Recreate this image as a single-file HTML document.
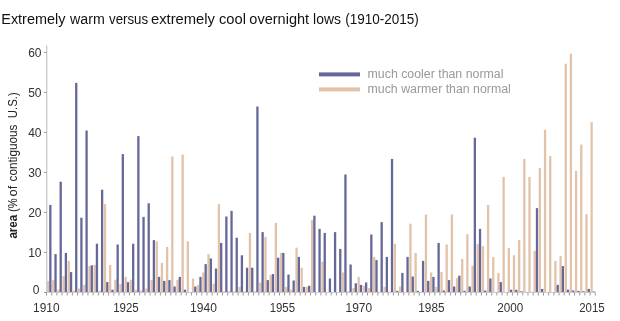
<!DOCTYPE html>
<html><head><meta charset="utf-8"><style>
html,body{margin:0;padding:0;background:#fff;width:620px;height:321px;overflow:hidden}
svg{display:block;will-change:transform}
text{font-family:"Liberation Sans",sans-serif}
</style></head><body>
<svg width="620" height="321" viewBox="0 0 620 321">
<rect width="620" height="321" fill="#fff"/>
<g fill="#111111"><text x="1.27" y="23.8" font-size="14" textLength="64.17" lengthAdjust="spacingAndGlyphs">Extremely</text><text x="70.00" y="23.8" font-size="14" textLength="34.84" lengthAdjust="spacingAndGlyphs">warm</text><text x="109.00" y="23.8" font-size="14" textLength="39.11" lengthAdjust="spacingAndGlyphs">versus</text><text x="150.97" y="23.8" font-size="14" textLength="64.01" lengthAdjust="spacingAndGlyphs">extremely</text><text x="218.97" y="23.8" font-size="14" textLength="26.96" lengthAdjust="spacingAndGlyphs">cool</text><text x="249.38" y="23.8" font-size="14" textLength="59.72" lengthAdjust="spacingAndGlyphs">overnight</text><text x="313.11" y="23.8" font-size="14" textLength="27.80" lengthAdjust="spacingAndGlyphs">lows</text><text x="345.23" y="23.8" font-size="14" textLength="73.62" lengthAdjust="spacingAndGlyphs">(1910-2015)</text></g>
<g shape-rendering="auto">
<rect x="46.90" y="280.90" width="2.3" height="11.60" fill="#e2c3aa"/>
<rect x="49.20" y="204.90" width="2.3" height="87.60" fill="#666899"/>
<rect x="52.08" y="280.10" width="2.3" height="12.40" fill="#e2c3aa"/>
<rect x="54.38" y="254.10" width="2.3" height="38.40" fill="#666899"/>
<rect x="57.25" y="289.70" width="2.3" height="2.80" fill="#e2c3aa"/>
<rect x="59.55" y="181.70" width="2.3" height="110.80" fill="#666899"/>
<rect x="62.43" y="276.10" width="2.3" height="16.40" fill="#e2c3aa"/>
<rect x="64.73" y="252.90" width="2.3" height="39.60" fill="#666899"/>
<rect x="67.61" y="260.90" width="2.3" height="31.60" fill="#e2c3aa"/>
<rect x="69.91" y="272.10" width="2.3" height="20.40" fill="#666899"/>
<rect x="72.78" y="290.50" width="2.3" height="2.00" fill="#e2c3aa"/>
<rect x="75.08" y="82.90" width="2.3" height="209.60" fill="#666899"/>
<rect x="77.96" y="288.50" width="2.3" height="4.00" fill="#e2c3aa"/>
<rect x="80.26" y="217.70" width="2.3" height="74.80" fill="#666899"/>
<rect x="83.14" y="284.90" width="2.3" height="7.60" fill="#e2c3aa"/>
<rect x="85.44" y="130.50" width="2.3" height="162.00" fill="#666899"/>
<rect x="88.32" y="266.10" width="2.3" height="26.40" fill="#e2c3aa"/>
<rect x="90.62" y="265.30" width="2.3" height="27.20" fill="#666899"/>
<rect x="93.49" y="264.90" width="2.3" height="27.60" fill="#e2c3aa"/>
<rect x="95.79" y="243.70" width="2.3" height="48.80" fill="#666899"/>
<rect x="98.67" y="290.50" width="2.3" height="2.00" fill="#e2c3aa"/>
<rect x="100.97" y="189.70" width="2.3" height="102.80" fill="#666899"/>
<rect x="103.85" y="204.10" width="2.3" height="88.40" fill="#e2c3aa"/>
<rect x="106.15" y="282.10" width="2.3" height="10.40" fill="#666899"/>
<rect x="109.02" y="264.90" width="2.3" height="27.60" fill="#e2c3aa"/>
<rect x="111.32" y="289.70" width="2.3" height="2.80" fill="#666899"/>
<rect x="114.20" y="279.70" width="2.3" height="12.80" fill="#e2c3aa"/>
<rect x="116.50" y="244.50" width="2.3" height="48.00" fill="#666899"/>
<rect x="119.38" y="284.10" width="2.3" height="8.40" fill="#e2c3aa"/>
<rect x="121.68" y="154.10" width="2.3" height="138.40" fill="#666899"/>
<rect x="124.56" y="276.90" width="2.3" height="15.60" fill="#e2c3aa"/>
<rect x="126.86" y="282.10" width="2.3" height="10.40" fill="#666899"/>
<rect x="129.73" y="279.70" width="2.3" height="12.80" fill="#e2c3aa"/>
<rect x="132.03" y="243.70" width="2.3" height="48.80" fill="#666899"/>
<rect x="134.91" y="289.70" width="2.3" height="2.80" fill="#e2c3aa"/>
<rect x="137.21" y="136.10" width="2.3" height="156.40" fill="#666899"/>
<rect x="140.09" y="290.50" width="2.3" height="2.00" fill="#e2c3aa"/>
<rect x="142.39" y="216.90" width="2.3" height="75.60" fill="#666899"/>
<rect x="145.26" y="288.50" width="2.3" height="4.00" fill="#e2c3aa"/>
<rect x="147.56" y="203.30" width="2.3" height="89.20" fill="#666899"/>
<rect x="150.44" y="280.10" width="2.3" height="12.40" fill="#e2c3aa"/>
<rect x="152.74" y="240.10" width="2.3" height="52.40" fill="#666899"/>
<rect x="155.62" y="241.30" width="2.3" height="51.20" fill="#e2c3aa"/>
<rect x="157.92" y="276.90" width="2.3" height="15.60" fill="#666899"/>
<rect x="160.79" y="262.90" width="2.3" height="29.60" fill="#e2c3aa"/>
<rect x="163.09" y="280.90" width="2.3" height="11.60" fill="#666899"/>
<rect x="165.97" y="246.90" width="2.3" height="45.60" fill="#e2c3aa"/>
<rect x="168.27" y="280.10" width="2.3" height="12.40" fill="#666899"/>
<rect x="171.15" y="156.50" width="2.3" height="136.00" fill="#e2c3aa"/>
<rect x="173.45" y="286.50" width="2.3" height="6.00" fill="#666899"/>
<rect x="176.32" y="280.10" width="2.3" height="12.40" fill="#e2c3aa"/>
<rect x="178.62" y="276.90" width="2.3" height="15.60" fill="#666899"/>
<rect x="181.50" y="154.50" width="2.3" height="138.00" fill="#e2c3aa"/>
<rect x="183.80" y="289.70" width="2.3" height="2.80" fill="#666899"/>
<rect x="186.68" y="241.30" width="2.3" height="51.20" fill="#e2c3aa"/>
<rect x="188.98" y="292.10" width="2.3" height="0.40" fill="#666899"/>
<rect x="191.86" y="278.50" width="2.3" height="14.00" fill="#e2c3aa"/>
<rect x="194.16" y="286.50" width="2.3" height="6.00" fill="#666899"/>
<rect x="197.03" y="284.90" width="2.3" height="7.60" fill="#e2c3aa"/>
<rect x="199.33" y="276.90" width="2.3" height="15.60" fill="#666899"/>
<rect x="202.21" y="272.50" width="2.3" height="20.00" fill="#e2c3aa"/>
<rect x="204.51" y="264.10" width="2.3" height="28.40" fill="#666899"/>
<rect x="207.39" y="254.10" width="2.3" height="38.40" fill="#e2c3aa"/>
<rect x="209.69" y="258.50" width="2.3" height="34.00" fill="#666899"/>
<rect x="212.56" y="283.70" width="2.3" height="8.80" fill="#e2c3aa"/>
<rect x="214.86" y="268.50" width="2.3" height="24.00" fill="#666899"/>
<rect x="217.74" y="204.10" width="2.3" height="88.40" fill="#e2c3aa"/>
<rect x="220.04" y="242.90" width="2.3" height="49.60" fill="#666899"/>
<rect x="222.92" y="291.30" width="2.3" height="1.20" fill="#e2c3aa"/>
<rect x="225.22" y="216.50" width="2.3" height="76.00" fill="#666899"/>
<rect x="228.09" y="291.30" width="2.3" height="1.20" fill="#e2c3aa"/>
<rect x="230.39" y="210.90" width="2.3" height="81.60" fill="#666899"/>
<rect x="233.27" y="291.30" width="2.3" height="1.20" fill="#e2c3aa"/>
<rect x="235.57" y="237.70" width="2.3" height="54.80" fill="#666899"/>
<rect x="238.45" y="286.90" width="2.3" height="5.60" fill="#e2c3aa"/>
<rect x="240.75" y="255.30" width="2.3" height="37.20" fill="#666899"/>
<rect x="243.63" y="291.30" width="2.3" height="1.20" fill="#e2c3aa"/>
<rect x="245.93" y="267.70" width="2.3" height="24.80" fill="#666899"/>
<rect x="248.80" y="232.90" width="2.3" height="59.60" fill="#e2c3aa"/>
<rect x="251.10" y="267.70" width="2.3" height="24.80" fill="#666899"/>
<rect x="253.98" y="291.30" width="2.3" height="1.20" fill="#e2c3aa"/>
<rect x="256.28" y="106.50" width="2.3" height="186.00" fill="#666899"/>
<rect x="259.16" y="282.50" width="2.3" height="10.00" fill="#e2c3aa"/>
<rect x="261.46" y="232.10" width="2.3" height="60.40" fill="#666899"/>
<rect x="264.33" y="236.90" width="2.3" height="55.60" fill="#e2c3aa"/>
<rect x="266.63" y="280.10" width="2.3" height="12.40" fill="#666899"/>
<rect x="269.51" y="274.90" width="2.3" height="17.60" fill="#e2c3aa"/>
<rect x="271.81" y="274.10" width="2.3" height="18.40" fill="#666899"/>
<rect x="274.69" y="222.90" width="2.3" height="69.60" fill="#e2c3aa"/>
<rect x="276.99" y="257.70" width="2.3" height="34.80" fill="#666899"/>
<rect x="279.86" y="252.90" width="2.3" height="39.60" fill="#e2c3aa"/>
<rect x="282.16" y="252.90" width="2.3" height="39.60" fill="#666899"/>
<rect x="285.04" y="286.90" width="2.3" height="5.60" fill="#e2c3aa"/>
<rect x="287.34" y="274.50" width="2.3" height="18.00" fill="#666899"/>
<rect x="290.22" y="289.70" width="2.3" height="2.80" fill="#e2c3aa"/>
<rect x="292.52" y="280.50" width="2.3" height="12.00" fill="#666899"/>
<rect x="295.40" y="247.70" width="2.3" height="44.80" fill="#e2c3aa"/>
<rect x="297.70" y="256.90" width="2.3" height="35.60" fill="#666899"/>
<rect x="300.57" y="267.70" width="2.3" height="24.80" fill="#e2c3aa"/>
<rect x="302.87" y="286.90" width="2.3" height="5.60" fill="#666899"/>
<rect x="305.75" y="286.90" width="2.3" height="5.60" fill="#e2c3aa"/>
<rect x="308.05" y="285.70" width="2.3" height="6.80" fill="#666899"/>
<rect x="310.93" y="220.10" width="2.3" height="72.40" fill="#e2c3aa"/>
<rect x="313.23" y="215.70" width="2.3" height="76.80" fill="#666899"/>
<rect x="316.10" y="292.10" width="2.3" height="0.40" fill="#e2c3aa"/>
<rect x="318.40" y="228.90" width="2.3" height="63.60" fill="#666899"/>
<rect x="321.28" y="261.70" width="2.3" height="30.80" fill="#e2c3aa"/>
<rect x="323.58" y="232.90" width="2.3" height="59.60" fill="#666899"/>
<rect x="326.46" y="292.10" width="2.3" height="0.40" fill="#e2c3aa"/>
<rect x="328.76" y="278.50" width="2.3" height="14.00" fill="#666899"/>
<rect x="331.63" y="292.10" width="2.3" height="0.40" fill="#e2c3aa"/>
<rect x="333.93" y="232.10" width="2.3" height="60.40" fill="#666899"/>
<rect x="336.81" y="292.10" width="2.3" height="0.40" fill="#e2c3aa"/>
<rect x="339.11" y="248.90" width="2.3" height="43.60" fill="#666899"/>
<rect x="341.99" y="272.50" width="2.3" height="20.00" fill="#e2c3aa"/>
<rect x="344.29" y="174.50" width="2.3" height="118.00" fill="#666899"/>
<rect x="347.17" y="291.30" width="2.3" height="1.20" fill="#e2c3aa"/>
<rect x="349.47" y="264.50" width="2.3" height="28.00" fill="#666899"/>
<rect x="352.34" y="288.10" width="2.3" height="4.40" fill="#e2c3aa"/>
<rect x="354.64" y="283.30" width="2.3" height="9.20" fill="#666899"/>
<rect x="357.52" y="276.90" width="2.3" height="15.60" fill="#e2c3aa"/>
<rect x="359.82" y="284.90" width="2.3" height="7.60" fill="#666899"/>
<rect x="362.70" y="285.70" width="2.3" height="6.80" fill="#e2c3aa"/>
<rect x="365.00" y="282.50" width="2.3" height="10.00" fill="#666899"/>
<rect x="367.87" y="288.10" width="2.3" height="4.40" fill="#e2c3aa"/>
<rect x="370.17" y="234.50" width="2.3" height="58.00" fill="#666899"/>
<rect x="373.05" y="256.90" width="2.3" height="35.60" fill="#e2c3aa"/>
<rect x="375.35" y="260.10" width="2.3" height="32.40" fill="#666899"/>
<rect x="378.23" y="291.70" width="2.3" height="0.80" fill="#e2c3aa"/>
<rect x="380.53" y="222.10" width="2.3" height="70.40" fill="#666899"/>
<rect x="383.40" y="286.90" width="2.3" height="5.60" fill="#e2c3aa"/>
<rect x="385.70" y="256.90" width="2.3" height="35.60" fill="#666899"/>
<rect x="388.58" y="291.70" width="2.3" height="0.80" fill="#e2c3aa"/>
<rect x="390.88" y="158.90" width="2.3" height="133.60" fill="#666899"/>
<rect x="393.76" y="243.70" width="2.3" height="48.80" fill="#e2c3aa"/>
<rect x="396.06" y="290.90" width="2.3" height="1.60" fill="#666899"/>
<rect x="398.94" y="286.50" width="2.3" height="6.00" fill="#e2c3aa"/>
<rect x="401.24" y="272.90" width="2.3" height="19.60" fill="#666899"/>
<rect x="404.11" y="292.10" width="2.3" height="0.40" fill="#e2c3aa"/>
<rect x="406.41" y="256.90" width="2.3" height="35.60" fill="#666899"/>
<rect x="409.29" y="223.70" width="2.3" height="68.80" fill="#e2c3aa"/>
<rect x="411.59" y="276.50" width="2.3" height="16.00" fill="#666899"/>
<rect x="414.47" y="252.90" width="2.3" height="39.60" fill="#e2c3aa"/>
<rect x="416.77" y="290.90" width="2.3" height="1.60" fill="#666899"/>
<rect x="419.64" y="292.10" width="2.3" height="0.40" fill="#e2c3aa"/>
<rect x="421.94" y="260.90" width="2.3" height="31.60" fill="#666899"/>
<rect x="424.82" y="214.50" width="2.3" height="78.00" fill="#e2c3aa"/>
<rect x="427.12" y="280.90" width="2.3" height="11.60" fill="#666899"/>
<rect x="430.00" y="272.50" width="2.3" height="20.00" fill="#e2c3aa"/>
<rect x="432.30" y="276.90" width="2.3" height="15.60" fill="#666899"/>
<rect x="435.17" y="286.90" width="2.3" height="5.60" fill="#e2c3aa"/>
<rect x="437.47" y="242.90" width="2.3" height="49.60" fill="#666899"/>
<rect x="440.35" y="272.10" width="2.3" height="20.40" fill="#e2c3aa"/>
<rect x="442.65" y="290.50" width="2.3" height="2.00" fill="#666899"/>
<rect x="445.53" y="244.50" width="2.3" height="48.00" fill="#e2c3aa"/>
<rect x="447.83" y="280.10" width="2.3" height="12.40" fill="#666899"/>
<rect x="450.71" y="214.50" width="2.3" height="78.00" fill="#e2c3aa"/>
<rect x="453.01" y="286.50" width="2.3" height="6.00" fill="#666899"/>
<rect x="455.88" y="278.10" width="2.3" height="14.40" fill="#e2c3aa"/>
<rect x="458.18" y="275.70" width="2.3" height="16.80" fill="#666899"/>
<rect x="461.06" y="258.90" width="2.3" height="33.60" fill="#e2c3aa"/>
<rect x="463.36" y="290.90" width="2.3" height="1.60" fill="#666899"/>
<rect x="466.24" y="234.10" width="2.3" height="58.40" fill="#e2c3aa"/>
<rect x="468.54" y="286.50" width="2.3" height="6.00" fill="#666899"/>
<rect x="471.41" y="265.70" width="2.3" height="26.80" fill="#e2c3aa"/>
<rect x="473.71" y="137.70" width="2.3" height="154.80" fill="#666899"/>
<rect x="476.59" y="244.10" width="2.3" height="48.40" fill="#e2c3aa"/>
<rect x="478.89" y="228.90" width="2.3" height="63.60" fill="#666899"/>
<rect x="481.77" y="246.10" width="2.3" height="46.40" fill="#e2c3aa"/>
<rect x="484.07" y="290.50" width="2.3" height="2.00" fill="#666899"/>
<rect x="486.94" y="204.90" width="2.3" height="87.60" fill="#e2c3aa"/>
<rect x="489.24" y="278.50" width="2.3" height="14.00" fill="#666899"/>
<rect x="492.12" y="256.90" width="2.3" height="35.60" fill="#e2c3aa"/>
<rect x="494.42" y="292.10" width="2.3" height="0.40" fill="#666899"/>
<rect x="497.30" y="272.90" width="2.3" height="19.60" fill="#e2c3aa"/>
<rect x="499.60" y="282.10" width="2.3" height="10.40" fill="#666899"/>
<rect x="502.48" y="176.90" width="2.3" height="115.60" fill="#e2c3aa"/>
<rect x="504.78" y="292.10" width="2.3" height="0.40" fill="#666899"/>
<rect x="507.65" y="248.10" width="2.3" height="44.40" fill="#e2c3aa"/>
<rect x="509.95" y="289.70" width="2.3" height="2.80" fill="#666899"/>
<rect x="512.83" y="255.30" width="2.3" height="37.20" fill="#e2c3aa"/>
<rect x="515.13" y="289.70" width="2.3" height="2.80" fill="#666899"/>
<rect x="518.01" y="240.10" width="2.3" height="52.40" fill="#e2c3aa"/>
<rect x="520.31" y="291.30" width="2.3" height="1.20" fill="#666899"/>
<rect x="523.18" y="158.90" width="2.3" height="133.60" fill="#e2c3aa"/>
<rect x="525.48" y="291.90" width="2.3" height="0.60" fill="#666899"/>
<rect x="528.36" y="176.90" width="2.3" height="115.60" fill="#e2c3aa"/>
<rect x="530.66" y="291.90" width="2.3" height="0.60" fill="#666899"/>
<rect x="533.54" y="250.90" width="2.3" height="41.60" fill="#e2c3aa"/>
<rect x="535.84" y="208.10" width="2.3" height="84.40" fill="#666899"/>
<rect x="538.71" y="168.10" width="2.3" height="124.40" fill="#e2c3aa"/>
<rect x="541.01" y="288.90" width="2.3" height="3.60" fill="#666899"/>
<rect x="543.89" y="129.70" width="2.3" height="162.80" fill="#e2c3aa"/>
<rect x="546.19" y="292.10" width="2.3" height="0.40" fill="#666899"/>
<rect x="549.07" y="156.10" width="2.3" height="136.40" fill="#e2c3aa"/>
<rect x="551.37" y="292.10" width="2.3" height="0.40" fill="#666899"/>
<rect x="554.25" y="260.90" width="2.3" height="31.60" fill="#e2c3aa"/>
<rect x="556.55" y="284.90" width="2.3" height="7.60" fill="#666899"/>
<rect x="559.42" y="256.10" width="2.3" height="36.40" fill="#e2c3aa"/>
<rect x="561.72" y="266.10" width="2.3" height="26.40" fill="#666899"/>
<rect x="564.60" y="63.70" width="2.3" height="228.80" fill="#e2c3aa"/>
<rect x="566.90" y="289.70" width="2.3" height="2.80" fill="#666899"/>
<rect x="569.78" y="53.70" width="2.3" height="238.80" fill="#e2c3aa"/>
<rect x="572.08" y="290.50" width="2.3" height="2.00" fill="#666899"/>
<rect x="574.95" y="170.90" width="2.3" height="121.60" fill="#e2c3aa"/>
<rect x="577.25" y="290.90" width="2.3" height="1.60" fill="#666899"/>
<rect x="580.13" y="144.50" width="2.3" height="148.00" fill="#e2c3aa"/>
<rect x="582.43" y="291.30" width="2.3" height="1.20" fill="#666899"/>
<rect x="585.31" y="214.10" width="2.3" height="78.40" fill="#e2c3aa"/>
<rect x="587.61" y="288.90" width="2.3" height="3.60" fill="#666899"/>
<rect x="590.48" y="122.10" width="2.3" height="170.40" fill="#e2c3aa"/>
<rect x="592.78" y="291.50" width="2.3" height="1.00" fill="#666899"/>
</g>
<line x1="46.7" y1="45.5" x2="46.7" y2="292.5" stroke="#cccccc" stroke-width="1.4"/>
<line x1="44" y1="292.5" x2="595.262" y2="292.5" stroke="#cccccc" stroke-width="1"/>
<g stroke="#999999" stroke-width="1">
<line x1="46.50" y1="292.5" x2="46.50" y2="295.5"/>
<line x1="51.68" y1="292.5" x2="51.68" y2="295.5"/>
<line x1="56.85" y1="292.5" x2="56.85" y2="295.5"/>
<line x1="62.03" y1="292.5" x2="62.03" y2="295.5"/>
<line x1="67.21" y1="292.5" x2="67.21" y2="295.5"/>
<line x1="72.38" y1="292.5" x2="72.38" y2="295.5"/>
<line x1="77.56" y1="292.5" x2="77.56" y2="295.5"/>
<line x1="82.74" y1="292.5" x2="82.74" y2="295.5"/>
<line x1="87.92" y1="292.5" x2="87.92" y2="295.5"/>
<line x1="93.09" y1="292.5" x2="93.09" y2="295.5"/>
<line x1="98.27" y1="292.5" x2="98.27" y2="295.5"/>
<line x1="103.45" y1="292.5" x2="103.45" y2="295.5"/>
<line x1="108.62" y1="292.5" x2="108.62" y2="295.5"/>
<line x1="113.80" y1="292.5" x2="113.80" y2="295.5"/>
<line x1="118.98" y1="292.5" x2="118.98" y2="295.5"/>
<line x1="124.16" y1="292.5" x2="124.16" y2="295.5"/>
<line x1="129.33" y1="292.5" x2="129.33" y2="295.5"/>
<line x1="134.51" y1="292.5" x2="134.51" y2="295.5"/>
<line x1="139.69" y1="292.5" x2="139.69" y2="295.5"/>
<line x1="144.86" y1="292.5" x2="144.86" y2="295.5"/>
<line x1="150.04" y1="292.5" x2="150.04" y2="295.5"/>
<line x1="155.22" y1="292.5" x2="155.22" y2="295.5"/>
<line x1="160.39" y1="292.5" x2="160.39" y2="295.5"/>
<line x1="165.57" y1="292.5" x2="165.57" y2="295.5"/>
<line x1="170.75" y1="292.5" x2="170.75" y2="295.5"/>
<line x1="175.92" y1="292.5" x2="175.92" y2="295.5"/>
<line x1="181.10" y1="292.5" x2="181.10" y2="295.5"/>
<line x1="186.28" y1="292.5" x2="186.28" y2="295.5"/>
<line x1="191.46" y1="292.5" x2="191.46" y2="295.5"/>
<line x1="196.63" y1="292.5" x2="196.63" y2="295.5"/>
<line x1="201.81" y1="292.5" x2="201.81" y2="295.5"/>
<line x1="206.99" y1="292.5" x2="206.99" y2="295.5"/>
<line x1="212.16" y1="292.5" x2="212.16" y2="295.5"/>
<line x1="217.34" y1="292.5" x2="217.34" y2="295.5"/>
<line x1="222.52" y1="292.5" x2="222.52" y2="295.5"/>
<line x1="227.69" y1="292.5" x2="227.69" y2="295.5"/>
<line x1="232.87" y1="292.5" x2="232.87" y2="295.5"/>
<line x1="238.05" y1="292.5" x2="238.05" y2="295.5"/>
<line x1="243.23" y1="292.5" x2="243.23" y2="295.5"/>
<line x1="248.40" y1="292.5" x2="248.40" y2="295.5"/>
<line x1="253.58" y1="292.5" x2="253.58" y2="295.5"/>
<line x1="258.76" y1="292.5" x2="258.76" y2="295.5"/>
<line x1="263.93" y1="292.5" x2="263.93" y2="295.5"/>
<line x1="269.11" y1="292.5" x2="269.11" y2="295.5"/>
<line x1="274.29" y1="292.5" x2="274.29" y2="295.5"/>
<line x1="279.46" y1="292.5" x2="279.46" y2="295.5"/>
<line x1="284.64" y1="292.5" x2="284.64" y2="295.5"/>
<line x1="289.82" y1="292.5" x2="289.82" y2="295.5"/>
<line x1="295.00" y1="292.5" x2="295.00" y2="295.5"/>
<line x1="300.17" y1="292.5" x2="300.17" y2="295.5"/>
<line x1="305.35" y1="292.5" x2="305.35" y2="295.5"/>
<line x1="310.53" y1="292.5" x2="310.53" y2="295.5"/>
<line x1="315.70" y1="292.5" x2="315.70" y2="295.5"/>
<line x1="320.88" y1="292.5" x2="320.88" y2="295.5"/>
<line x1="326.06" y1="292.5" x2="326.06" y2="295.5"/>
<line x1="331.23" y1="292.5" x2="331.23" y2="295.5"/>
<line x1="336.41" y1="292.5" x2="336.41" y2="295.5"/>
<line x1="341.59" y1="292.5" x2="341.59" y2="295.5"/>
<line x1="346.77" y1="292.5" x2="346.77" y2="295.5"/>
<line x1="351.94" y1="292.5" x2="351.94" y2="295.5"/>
<line x1="357.12" y1="292.5" x2="357.12" y2="295.5"/>
<line x1="362.30" y1="292.5" x2="362.30" y2="295.5"/>
<line x1="367.47" y1="292.5" x2="367.47" y2="295.5"/>
<line x1="372.65" y1="292.5" x2="372.65" y2="295.5"/>
<line x1="377.83" y1="292.5" x2="377.83" y2="295.5"/>
<line x1="383.00" y1="292.5" x2="383.00" y2="295.5"/>
<line x1="388.18" y1="292.5" x2="388.18" y2="295.5"/>
<line x1="393.36" y1="292.5" x2="393.36" y2="295.5"/>
<line x1="398.54" y1="292.5" x2="398.54" y2="295.5"/>
<line x1="403.71" y1="292.5" x2="403.71" y2="295.5"/>
<line x1="408.89" y1="292.5" x2="408.89" y2="295.5"/>
<line x1="414.07" y1="292.5" x2="414.07" y2="295.5"/>
<line x1="419.24" y1="292.5" x2="419.24" y2="295.5"/>
<line x1="424.42" y1="292.5" x2="424.42" y2="295.5"/>
<line x1="429.60" y1="292.5" x2="429.60" y2="295.5"/>
<line x1="434.77" y1="292.5" x2="434.77" y2="295.5"/>
<line x1="439.95" y1="292.5" x2="439.95" y2="295.5"/>
<line x1="445.13" y1="292.5" x2="445.13" y2="295.5"/>
<line x1="450.31" y1="292.5" x2="450.31" y2="295.5"/>
<line x1="455.48" y1="292.5" x2="455.48" y2="295.5"/>
<line x1="460.66" y1="292.5" x2="460.66" y2="295.5"/>
<line x1="465.84" y1="292.5" x2="465.84" y2="295.5"/>
<line x1="471.01" y1="292.5" x2="471.01" y2="295.5"/>
<line x1="476.19" y1="292.5" x2="476.19" y2="295.5"/>
<line x1="481.37" y1="292.5" x2="481.37" y2="295.5"/>
<line x1="486.54" y1="292.5" x2="486.54" y2="295.5"/>
<line x1="491.72" y1="292.5" x2="491.72" y2="295.5"/>
<line x1="496.90" y1="292.5" x2="496.90" y2="295.5"/>
<line x1="502.08" y1="292.5" x2="502.08" y2="295.5"/>
<line x1="507.25" y1="292.5" x2="507.25" y2="295.5"/>
<line x1="512.43" y1="292.5" x2="512.43" y2="295.5"/>
<line x1="517.61" y1="292.5" x2="517.61" y2="295.5"/>
<line x1="522.78" y1="292.5" x2="522.78" y2="295.5"/>
<line x1="527.96" y1="292.5" x2="527.96" y2="295.5"/>
<line x1="533.14" y1="292.5" x2="533.14" y2="295.5"/>
<line x1="538.31" y1="292.5" x2="538.31" y2="295.5"/>
<line x1="543.49" y1="292.5" x2="543.49" y2="295.5"/>
<line x1="548.67" y1="292.5" x2="548.67" y2="295.5"/>
<line x1="553.85" y1="292.5" x2="553.85" y2="295.5"/>
<line x1="559.02" y1="292.5" x2="559.02" y2="295.5"/>
<line x1="564.20" y1="292.5" x2="564.20" y2="295.5"/>
<line x1="569.38" y1="292.5" x2="569.38" y2="295.5"/>
<line x1="574.55" y1="292.5" x2="574.55" y2="295.5"/>
<line x1="579.73" y1="292.5" x2="579.73" y2="295.5"/>
<line x1="584.91" y1="292.5" x2="584.91" y2="295.5"/>
<line x1="590.08" y1="292.5" x2="590.08" y2="295.5"/>
<line x1="595.26" y1="292.5" x2="595.26" y2="295.5"/>
<line x1="44.0" y1="292.50" x2="46.5" y2="292.50"/>
<line x1="44.0" y1="252.50" x2="46.5" y2="252.50"/>
<line x1="44.0" y1="212.50" x2="46.5" y2="212.50"/>
<line x1="44.0" y1="172.50" x2="46.5" y2="172.50"/>
<line x1="44.0" y1="132.50" x2="46.5" y2="132.50"/>
<line x1="44.0" y1="92.50" x2="46.5" y2="92.50"/>
<line x1="44.0" y1="52.50" x2="46.5" y2="52.50"/>
</g>
<g font-size="12" fill="#333333">
<text x="39.5" y="294.10" text-anchor="end">0</text>
<text x="41.5" y="256.70" text-anchor="end">10</text>
<text x="41.5" y="216.70" text-anchor="end">20</text>
<text x="41.5" y="176.70" text-anchor="end">30</text>
<text x="41.5" y="136.70" text-anchor="end">40</text>
<text x="41.5" y="96.70" text-anchor="end">50</text>
<text x="41.5" y="56.70" text-anchor="end">60</text>
<text x="33.11" y="312.3" font-size="12" textLength="26.38" lengthAdjust="spacingAndGlyphs">1910</text>
<text x="113.14" y="312.3" font-size="12" textLength="25.53" lengthAdjust="spacingAndGlyphs">1925</text>
<text x="190.10" y="312.3" font-size="12" textLength="26.80" lengthAdjust="spacingAndGlyphs">1940</text>
<text x="269.65" y="312.3" font-size="12" textLength="25.32" lengthAdjust="spacingAndGlyphs">1955</text>
<text x="345.50" y="312.3" font-size="12" textLength="26.59" lengthAdjust="spacingAndGlyphs">1970</text>
<text x="418.32" y="312.3" font-size="12" textLength="26.17" lengthAdjust="spacingAndGlyphs">1985</text>
<text x="497.21" y="312.3" font-size="12" textLength="26.07" lengthAdjust="spacingAndGlyphs">2000</text>
<text x="579.23" y="312.3" font-size="12" textLength="25.44" lengthAdjust="spacingAndGlyphs">2015</text>
</g>
<g fill="#222222" transform="translate(16.6,238.8) rotate(-90)"><text x="0.21" y="0" font-size="12" textLength="23.88" lengthAdjust="spacingAndGlyphs" font-weight="bold">area</text><text x="26.75" y="0" font-size="12" textLength="13.70" lengthAdjust="spacingAndGlyphs">(%</text><text x="42.36" y="0" font-size="12" textLength="10.74" lengthAdjust="spacingAndGlyphs">of</text><text x="57.31" y="0" font-size="12" textLength="57.02" lengthAdjust="spacingAndGlyphs">contiguous</text><text x="120.55" y="0" font-size="12" textLength="25.95" lengthAdjust="spacingAndGlyphs">U.S.)</text></g>
<rect x="319" y="72.4" width="41" height="4" fill="#666899"/>
<rect x="319" y="87.4" width="41" height="4" fill="#e2c3aa"/>
<g fill="#999999"><text x="367.58" y="77.6" font-size="12" textLength="135.81" lengthAdjust="spacingAndGlyphs">much cooler than normal</text><text x="367.58" y="92.6" font-size="12" textLength="143.23" lengthAdjust="spacingAndGlyphs">much warmer than normal</text></g>
</svg>
</body></html>
